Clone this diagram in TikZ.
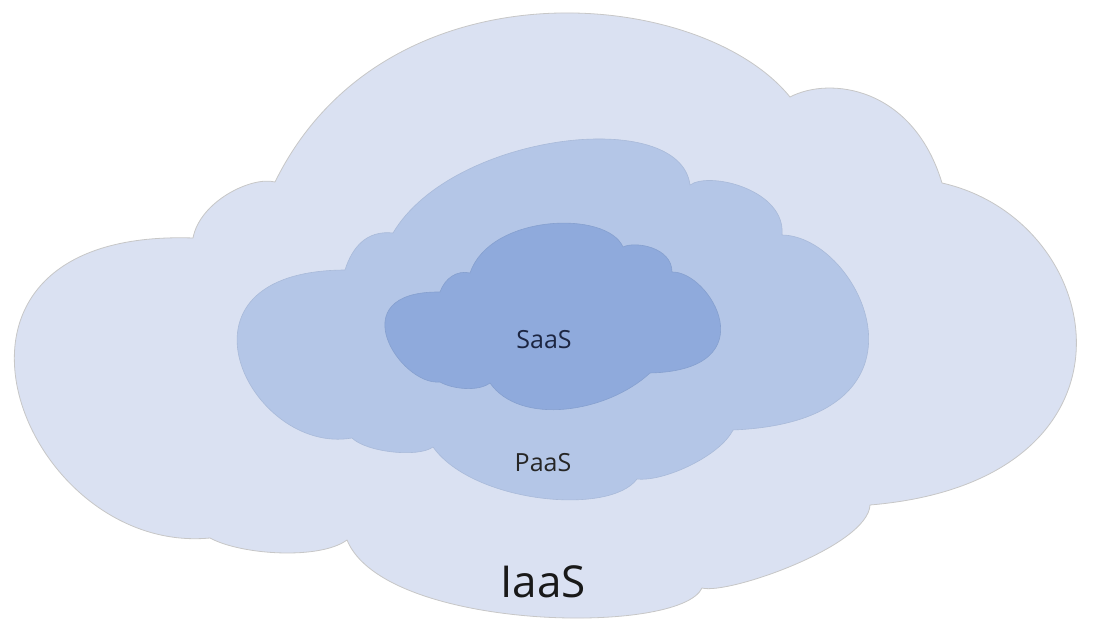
\documentclass[tikz,border=0pt]{standalone}
\usepackage{fontspec}
\newfontfamily\cloudfont{Open Sans}
\definecolor{iaasblue}{HTML}{DAE1F2}
\definecolor{paasblue}{HTML}{B4C6E7}
\definecolor{saasblue}{HTML}{8FAADC}
\definecolor{navytext}{HTML}{1C2541}
\begin{document}
\begin{tikzpicture}[x=1pt,y=1pt,
  layer/.style={line join=round,line width=.6pt},
  lbl/.style={font=\cloudfont\fontsize{25}{30}\selectfont,inner sep=0pt}]
\useasboundingbox (0,0) rectangle (1094,626);
% outer cloud
\draw[layer,fill=iaasblue,draw=black!22,line width=.8pt]
  (193,388) .. controls (200,425) and (252,450) .. (275,444)
  .. controls (385,668) and (700,640) .. (790,529)
  .. controls (830,550) and (913,539) .. (942,443)
  .. controls (1110,405) and (1156,145) .. (870,121)
  .. controls (868,80) and (728,31) .. (702,38)
  .. controls (680,-10) and (384,-5) .. (347,86)
  .. controls (320,66) and (241,71) .. (210,88)
  .. controls (20,70) and (-106,398) .. cycle;
% middle cloud
\draw[layer,fill=paasblue,draw=paasblue!94!black]
  (345,356) .. controls (352,378) and (366,396) .. (393,393)
  .. controls (452,493) and (680,520) .. (690,441)
  .. controls (710,455) and (786,436) .. (782,391)
  .. controls (860,390) and (950,205) .. (733,196)
  .. controls (720,170) and (664,144) .. (637,147)
  .. controls (610,110) and (473,123) .. (433,179)
  .. controls (418,168) and (366,174) .. (352,188)
  .. controls (250,170) and (158,355) .. cycle;
% inner cloud
\draw[layer,fill=saasblue,draw=saasblue!94!black]
  (440,334) .. controls (445,348) and (457,356) .. (470,353)
  .. controls (490,412) and (607,416) .. (623,379)
  .. controls (635,385) and (672,379) .. (672,354)
  .. controls (710,355) and (769,256) .. (650,253)
  .. controls (607,213) and (520,200) .. (490,243)
  .. controls (478,234) and (452,237) .. (440,244)
  .. controls (400,240) and (339,335) .. cycle;
\node[lbl,text=navytext] (saas) at (544,286) {SaaS};
\node[lbl,text=black!85] (paas) at (543,163) {PaaS};
\node[lbl,text=black!90,font=\cloudfont\fontsize{44}{50}\selectfont] (iaas) at (543,44) {IaaS};
\end{tikzpicture}
\end{document}
